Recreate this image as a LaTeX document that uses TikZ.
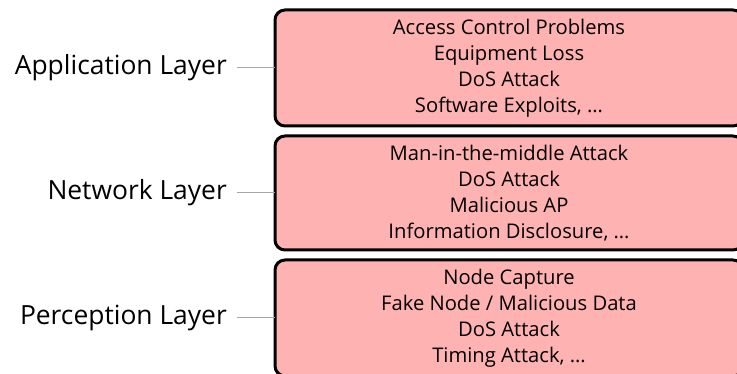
\documentclass[tikz,border=0pt]{standalone}
\usepackage{fontspec}
\setmainfont{Open Sans}
\begin{document}
\begin{tikzpicture}[x=1pt,y=-1pt,
  layerbox/.style={draw=black, line width=3pt, fill=red!30, rounded corners=10pt},
  threats/.style={align=center, font=\fontsize{20.2}{26}\selectfont, inner sep=0pt},
  layername/.style={anchor=east, font=\fontsize{26.4}{30}\selectfont, inner sep=0pt},
  link/.style={draw=black!35, line width=1pt}]
\useasboundingbox (0,0) rectangle (737,374);
\begin{scope}
\clip (0,0) rectangle (737,374);
% three stacked layers with their typical threats
\draw[layerbox] (275,10) rectangle (743,126);
\draw[layerbox] (275,136) rectangle (743,250);
\draw[layerbox] (275,260) rectangle (743,376);
\end{scope}
\node[threats] (app) at (509,68) {Access Control Problems\\Equipment Loss\\DoS Attack\\Software Exploits, \dots};
\node[threats] (net) at (509,193) {Man-in-the-middle Attack\\DoS Attack\\Malicious AP\\Information Disclosure, \dots};
\node[threats] (per) at (509,318) {Node Capture\\Fake Node / Malicious Data\\DoS Attack\\Timing Attack, \dots};
\coordinate (appedge) at (275,68);
\coordinate (netedge) at (275,193);
\coordinate (peredge) at (275,318);
\node[layername] (appname) at (227,68) {Application Layer};
\node[layername] (netname) at (227,193) {Network Layer};
\node[layername] (pername) at (227,318) {Perception Layer};
\draw[link] (appname.east) ++(10,0) -- (appedge);
\draw[link] (netname.east) ++(10,0) -- (netedge);
\draw[link] (pername.east) ++(10,0) -- (peredge);
\end{tikzpicture}
\end{document}
